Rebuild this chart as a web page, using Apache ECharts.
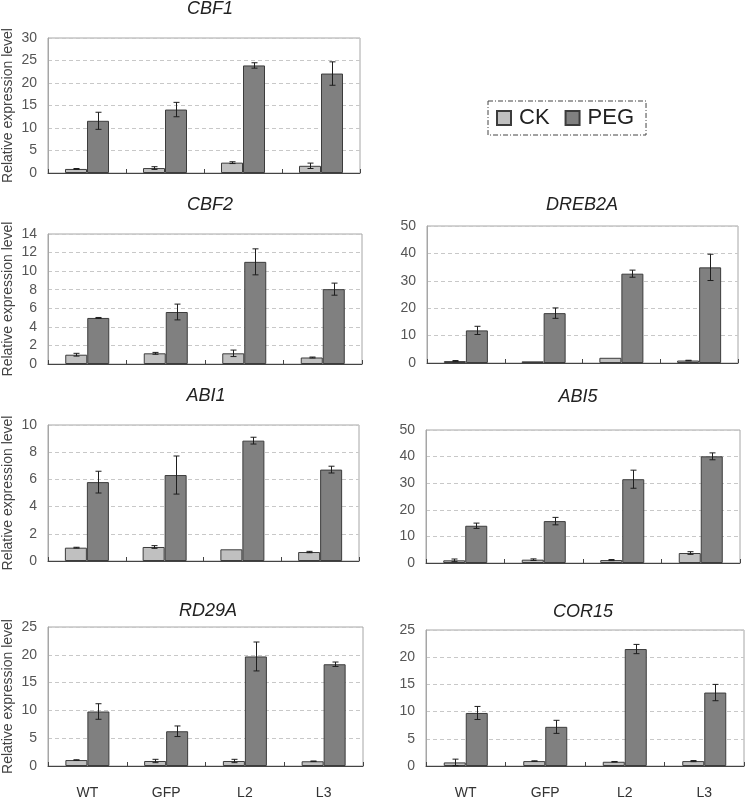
<!DOCTYPE html>
<html>
<head>
<meta charset="utf-8">
<script src="https://cdn.jsdelivr.net/npm/echarts@6/dist/echarts.min.js"></script>
<style>
html,body{margin:0;padding:0;background:#fff;}
#chart{width:745px;height:800px;}
</style>
</head>
<body>
<div id="chart"></div>
<script>
const categories = ['WT', 'GFP', 'L2', 'L3'];

const cbf1CK = [0.9, 1.1, 2.3, 1.6];
const cbf1CKErr = [0.1, 0.3, 0.2, 0.6];
const cbf1PEG = [11.6, 14.1, 23.9, 22.1];
const cbf1PEGErr = [1.9, 1.6, 0.6, 2.6];

const cbf2CK = [1.0, 1.15, 1.15, 0.7];
const cbf2CKErr = [0.15, 0.1, 0.35, 0.05];
const cbf2PEG = [4.96, 5.6, 11.0, 8.06];
const cbf2PEGErr = [0.05, 0.85, 1.4, 0.65];

const dreb2aCK = [0.7, 0.6, 1.9, 0.9];
const dreb2aCKErr = [0.2, 0, 0, 0.1];
const dreb2aPEG = [11.9, 18.2, 32.6, 34.9];
const dreb2aPEGErr = [1.5, 1.9, 1.3, 4.8];

const abi1CK = [0.98, 1.03, 0.86, 0.66];
const abi1CKErr = [0.03, 0.1, 0, 0.05];
const abi1PEG = [5.8, 6.32, 8.85, 6.72];
const abi1PEGErr = [0.8, 1.4, 0.25, 0.25];

const abi5CK = [1.0, 1.25, 1.1, 3.75];
const abi5CKErr = [0.5, 0.3, 0.2, 0.5];
const abi5PEG = [14.0, 15.75, 31.5, 40.1];
const abi5PEGErr = [1.0, 1.4, 3.4, 1.3];

const rd29aCK = [1.07, 0.9, 0.9, 0.85];
const rd29aCKErr = [0.05, 0.3, 0.3, 0.05];
const rd29aPEG = [9.8, 6.25, 19.7, 18.3];
const rd29aPEGErr = [1.4, 0.95, 2.6, 0.4];

const cor15CK = [0.66, 0.9, 0.78, 0.9];
const cor15CKErr = [0.6, 0.05, 0.05, 0.1];
const cor15PEG = [9.75, 7.2, 21.5, 13.5];
const cor15PEGErr = [1.2, 1.2, 0.85, 1.5];

const yAxisMax = [30, 14, 50, 10, 50, 25, 25];
const yAxisInterval = [5, 2, 10, 2, 10, 5, 5];
const geneNames = ['CBF1', 'CBF2', 'DREB2A', 'ABI1', 'ABI5', 'RD29A', 'COR15'];
const yAxisName = 'Relative expression level';

const panelData = [
  [cbf1CK, cbf1CKErr, cbf1PEG, cbf1PEGErr],
  [cbf2CK, cbf2CKErr, cbf2PEG, cbf2PEGErr],
  [dreb2aCK, dreb2aCKErr, dreb2aPEG, dreb2aPEGErr],
  [abi1CK, abi1CKErr, abi1PEG, abi1PEGErr],
  [abi5CK, abi5CKErr, abi5PEG, abi5PEGErr],
  [rd29aCK, rd29aCKErr, rd29aPEG, rd29aPEGErr],
  [cor15CK, cor15CKErr, cor15PEG, cor15PEGErr]
];

// layout (pixels)
const grids = [
  {left: 48, top: 38, width: 312, height: 135},
  {left: 48, top: 234, width: 314, height: 130},
  {left: 427, top: 226, width: 311, height: 137},
  {left: 48, top: 425, width: 311, height: 136},
  {left: 426, top: 430, width: 314, height: 133},
  {left: 48, top: 627, width: 315, height: 140},
  {left: 426, top: 630, width: 318, height: 139}
];
const titlePos = [[210, 9], [210, 205], [582, 205], [206, 396], [578, 397], [208, 611], [583, 612]];
const showYName = [true, true, false, true, false, true, false];
const showXLabels = [false, false, false, false, false, true, true];

const FONT = "'Liberation Sans', Arial, sans-serif";
const BAR_W = 22;
const CK_COLOR = '#c0c0c0';
const PEG_COLOR = '#808080';

const option = {
  animation: false,
  backgroundColor: '#fff',
  textStyle: {fontFamily: FONT},
  legend: {
    left: 488, top: 101,
    orient: 'horizontal',
    data: ['CK', 'PEG'],
    icon: 'rect',
    itemWidth: 14, itemHeight: 14,
    itemGap: 15,
    padding: [6, 12, 6, 8],
    borderColor: '#444',
    borderWidth: 1,
    borderType: [5, 2, 1, 2],
    textStyle: {fontSize: 22, color: '#222', fontFamily: FONT, padding: [0, 0, 0, 3]}
  },
  grid: [], xAxis: [], yAxis: [], series: [],
  graphic: []
};

grids.forEach((g, i) => {
  option.grid.push(Object.assign({show: true, borderColor: '#a6a6a6', borderWidth: 1, containLabel: false}, g));
  option.xAxis.push({
    type: 'category', gridIndex: i, data: categories,
    axisLine: {show: true, lineStyle: {color: '#444', width: 1}},
    axisTick: {show: true, inside: true, length: 4, alignWithLabel: false, lineStyle: {color: '#444'}},
    axisLabel: {show: showXLabels[i], fontSize: 14, color: '#333', margin: 20, fontFamily: FONT},
    splitLine: {show: false}
  });
  option.yAxis.push({
    type: 'value', gridIndex: i, min: 0, max: yAxisMax[i], interval: yAxisInterval[i],
    name: showYName[i] ? yAxisName : '',
    nameLocation: 'middle', nameGap: 33, nameRotate: 90,
    nameTextStyle: {fontSize: 14, color: '#444', fontFamily: FONT},
    axisLine: {show: true, lineStyle: {color: '#a6a6a6'}},
    axisTick: {show: false},
    axisLabel: {fontSize: 14, color: '#555', margin: 11, fontFamily: FONT},
    splitLine: {show: true, lineStyle: {color: '#c8c8c8', type: [4, 3], width: 1}}
  });
  const [ck, ckErr, peg, pegErr] = panelData[i];
  option.series.push({
    name: 'CK', type: 'bar', xAxisIndex: i, yAxisIndex: i, data: ck,
    barWidth: BAR_W, barGap: '0%',
    itemStyle: {color: CK_COLOR, borderColor: '#3c3c3c', borderWidth: 1}
  });
  option.series.push({
    name: 'PEG', type: 'bar', xAxisIndex: i, yAxisIndex: i, data: peg,
    barWidth: BAR_W, barGap: '0%',
    itemStyle: {color: PEG_COLOR, borderColor: '#3c3c3c', borderWidth: 1}
  });
  [[ck, ckErr, -BAR_W / 2], [peg, pegErr, BAR_W / 2]].forEach(([m, e, off]) => {
    option.series.push({
      type: 'custom', xAxisIndex: i, yAxisIndex: i, silent: true, z: 10,
      data: m.map((v, k) => [k, v, e[k]]),
      renderItem: (params, api) => {
        const idx = api.value(0), v = api.value(1), err = api.value(2);
        if (!err) return null;
        const top = api.coord([idx, v + err]);
        const bot = api.coord([idx, Math.max(0, v - err)]);
        const x = Math.round(top[0] + off) + 0.5;
        const cap = 3;
        const st = {stroke: '#1e1e1e', lineWidth: 1};
        return {
          type: 'group',
          children: [
            {type: 'line', shape: {x1: x, y1: top[1], x2: x, y2: bot[1]}, style: st},
            {type: 'line', shape: {x1: x - cap, y1: top[1], x2: x + cap, y2: top[1]}, style: st},
            {type: 'line', shape: {x1: x - cap, y1: bot[1], x2: x + cap, y2: bot[1]}, style: st}
          ]
        };
      }
    });
  });
  option.graphic.push({
    type: 'text', x: titlePos[i][0], y: titlePos[i][1],
    style: {text: geneNames[i], fontSize: 18, fontStyle: 'italic', fontFamily: FONT, fill: '#222',
            textAlign: 'center', textVerticalAlign: 'middle'}
  });
});

const chart = echarts.init(document.getElementById('chart'), null, {renderer: 'canvas'});
chart.setOption(option);
</script>
</body>
</html>
